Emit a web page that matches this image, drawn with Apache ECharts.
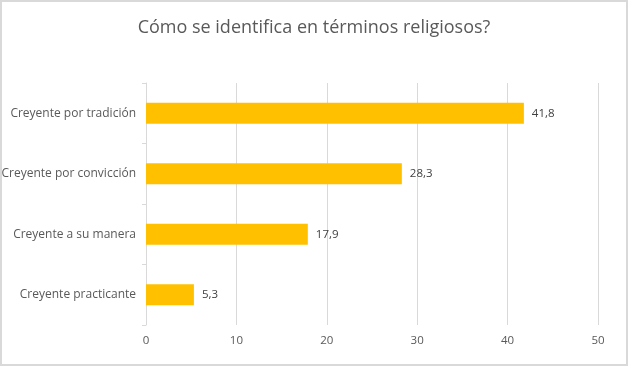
<!DOCTYPE html>
<html><head><meta charset="utf-8">
<script src="https://cdn.jsdelivr.net/npm/echarts@6/dist/echarts.min.js"></script>
<style>html,body{margin:0;padding:0;background:#fff}#c{width:628px;height:366px;box-sizing:border-box;border:2px solid #d9d9d9}</style>
</head><body><div id="c"></div>
<script>
const categories = ["Creyente por tradición","Creyente por convicción","Creyente a su manera","Creyente practicante"];
const values = [41.8, 28.3, 17.9, 5.3];
const xTicks = [0, 10, 20, 30, 40, 50];
const chart = echarts.init(document.getElementById('c'));
chart.setOption({
  animation: false,
  title: {text: "Cómo se identifica en términos religiosos?", left: 'center', top: 12,
    textStyle: {fontFamily: 'Open Sans', fontSize: 18, fontWeight: 'normal', color: '#595959'}},
  grid: {left: 144, right: 28, top: 81, bottom: 39, containLabel: false, outerBoundsMode: 'none'},
  xAxis: {type: 'value', min: xTicks[0], max: xTicks[xTicks.length-1], interval: 10,
    axisLine: {show: false}, axisTick: {show: false},
    splitLine: {lineStyle: {color: '#d9d9d9'}},
    axisLabel: {color: '#595959', fontFamily: 'Open Sans', fontSize: 11.5, margin: 10}},
  yAxis: {type: 'category', data: categories.slice().reverse(), inverse: false,
    axisLine: {lineStyle: {color: '#d9d9d9'}},
    axisTick: {show: true, length: 4, lineStyle: {color: '#d9d9d9'}},
    axisLabel: {color: '#595959', fontFamily: 'Open Sans', fontSize: 12, margin: 10}},
  series: [{type: 'bar', data: values.slice().reverse(), barCategoryGap: '65%',
    itemStyle: {color: '#FFC000'},
    label: {show: true, position: 'right', distance: 8, color: '#404040', fontFamily: 'Open Sans', fontSize: 11.5,
      formatter: p => String(p.value).replace('.', ',')}}]
});
</script></body></html>
